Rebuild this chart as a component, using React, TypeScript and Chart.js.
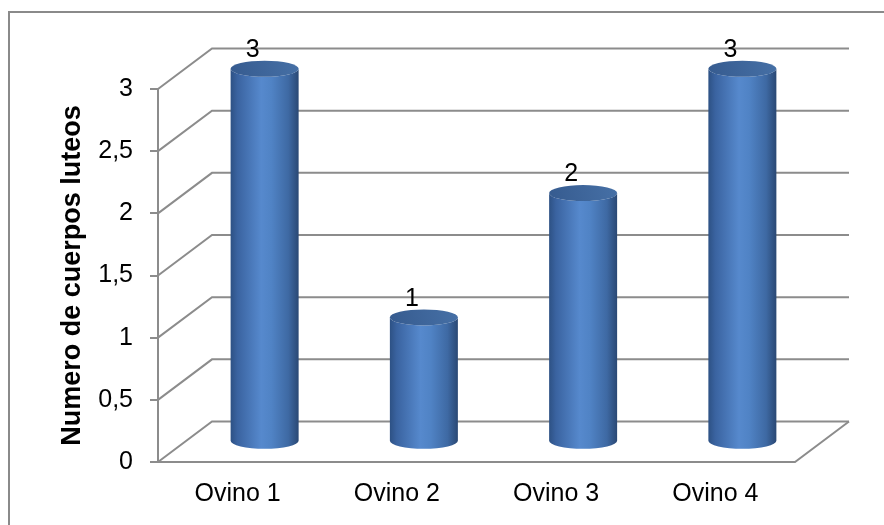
import React, { useEffect, useRef } from 'react';
import { Chart, registerables } from 'chart.js';

Chart.register(...registerables);

// ---- data ----
const categories = ['Ovino 1', 'Ovino 2', 'Ovino 3', 'Ovino 4'];
const values = [3, 1, 2, 3];
const yTickValues = [0, 0.5, 1, 1.5, 2, 2.5, 3];
const yTitle = 'Numero de cuerpos luteos';

// ---- style ----
const FONT = "'Liberation Sans', Arial, Helvetica, sans-serif";
const GRID = '#8c8c8c';
const DX = 54; // depth offset of back wall (x)
const DY = -40.5; // depth offset of back wall (y)
const RY = 8; // ellipse vertical radius of cylinders

const threeD = {
  id: 'threeD',
  beforeDraw(chart: any) {
    const ctx = chart.ctx;
    ctx.save();
    ctx.strokeStyle = '#8a8a8a';
    ctx.lineWidth = 2;
    ctx.strokeRect(9, 12, 1200, 1000);
    ctx.restore();
  },
  beforeDatasetsDraw(chart: any) {
    const { ctx, chartArea: a, scales } = chart;
    const y = scales.y;
    ctx.save();
    ctx.strokeStyle = GRID;
    ctx.lineWidth = 2;
    ctx.lineCap = 'butt';
    y.ticks.forEach((t: any) => {
      const py = y.getPixelForValue(t.value);
      ctx.beginPath();
      ctx.moveTo(a.left, py);
      ctx.lineTo(a.left + DX, py + DY);
      ctx.lineTo(a.right + DX, py + DY);
      ctx.stroke();
    });
    const p0 = y.getPixelForValue(0);
    ctx.beginPath();
    ctx.moveTo(a.left, p0);
    ctx.lineTo(a.right, p0);
    ctx.lineTo(a.right + DX, p0 + DY);
    ctx.stroke();
    ctx.restore();
  },
  afterDatasetsDraw(chart: any) {
    const ctx = chart.ctx;
    const meta = chart.getDatasetMeta(0);
    ctx.save();
    meta.data.forEach((bar: any, i: number) => {
      const { x, y, base, width } = bar.getProps(['x', 'y', 'base', 'width'], true);
      const cx = x + DX / 2;
      const top = y + DY / 2;
      const bottom = base + DY / 2;
      const rx = width / 2;
      // body
      const g = ctx.createLinearGradient(cx - rx, 0, cx + rx, 0);
      g.addColorStop(0, '#2d5184');
      g.addColorStop(0.1, '#3a63a0');
      g.addColorStop(0.45, '#5689cd');
      g.addColorStop(0.6, '#5083c5');
      g.addColorStop(0.85, '#3e69a3');
      g.addColorStop(1, '#2a4874');
      ctx.beginPath();
      ctx.moveTo(cx - rx, top);
      ctx.lineTo(cx - rx, bottom);
      ctx.ellipse(cx, bottom, rx, RY, 0, Math.PI, 0, true);
      ctx.lineTo(cx + rx, top);
      ctx.ellipse(cx, top, rx, RY, 0, 0, Math.PI, false);
      ctx.closePath();
      ctx.fillStyle = g;
      ctx.fill();
      // top face
      const gt = ctx.createLinearGradient(cx - rx, top + RY, cx + rx, top - RY);
      gt.addColorStop(0, '#365b8f');
      gt.addColorStop(1, '#4670a6');
      ctx.beginPath();
      ctx.ellipse(cx, top, rx, RY, 0, 0, Math.PI * 2);
      ctx.fillStyle = gt;
      ctx.fill();
      // label
      ctx.fillStyle = '#000';
      ctx.font = `25px ${FONT}`;
      ctx.textAlign = 'center';
      ctx.textBaseline = 'middle';
      ctx.fillText(String(values[i]).replace('.', ','), cx - 12, top - 18.5);
    });
    ctx.restore();
  },
};

export default function App() {
  const ref = useRef<HTMLCanvasElement | null>(null);
  useEffect(() => {
    document.body.style.margin = '0';
    const canvas = ref.current!;
    const chart = new Chart(canvas, {
      type: 'bar',
      data: {
        labels: categories,
        datasets: [
          {
            data: values,
            backgroundColor: 'rgba(0,0,0,0)',
            borderWidth: 0,
            categoryPercentage: 1,
            barPercentage: 0.427,
          },
        ],
      },
      options: {
        responsive: false,
        animation: false,
        events: [],
        layout: { padding: { top: 89, right: 89, left: 0, bottom: 0 } },
        plugins: { legend: { display: false }, tooltip: { enabled: false } },
        scales: {
          x: {
            grid: { display: false, drawTicks: false },
            border: { display: false },
            ticks: { color: '#000', font: { family: FONT, size: 25 }, padding: 17, maxRotation: 0 },
            afterFit(s: any) {
              s.height = 63;
            },
          },
          y: {
            min: 0,
            max: 3,
            grid: { drawOnChartArea: false, drawTicks: true, tickLength: 8, color: GRID, lineWidth: 2 },
            border: { display: true, color: GRID, width: 2 },
            ticks: {
              color: '#000',
              font: { family: FONT, size: 25 },
              padding: 17,
              callback: (v: any) => String(v).replace('.', ','),
            },
            afterBuildTicks(s: any) {
              s.ticks = yTickValues.map((v) => ({ value: v }));
            },
            title: {
              display: true,
              text: yTitle,
              color: '#000',
              font: { family: FONT, size: 27, weight: 'bold' },
              padding: { top: 56, bottom: 0 },
            },
            afterFit(s: any) {
              s.width = 158;
            },
          },
        },
      },
      plugins: [threeD],
    } as any);
    return () => chart.destroy();
  }, []);
  return <canvas ref={ref} width={884} height={525} style={{ display: 'block' }} />;
}
